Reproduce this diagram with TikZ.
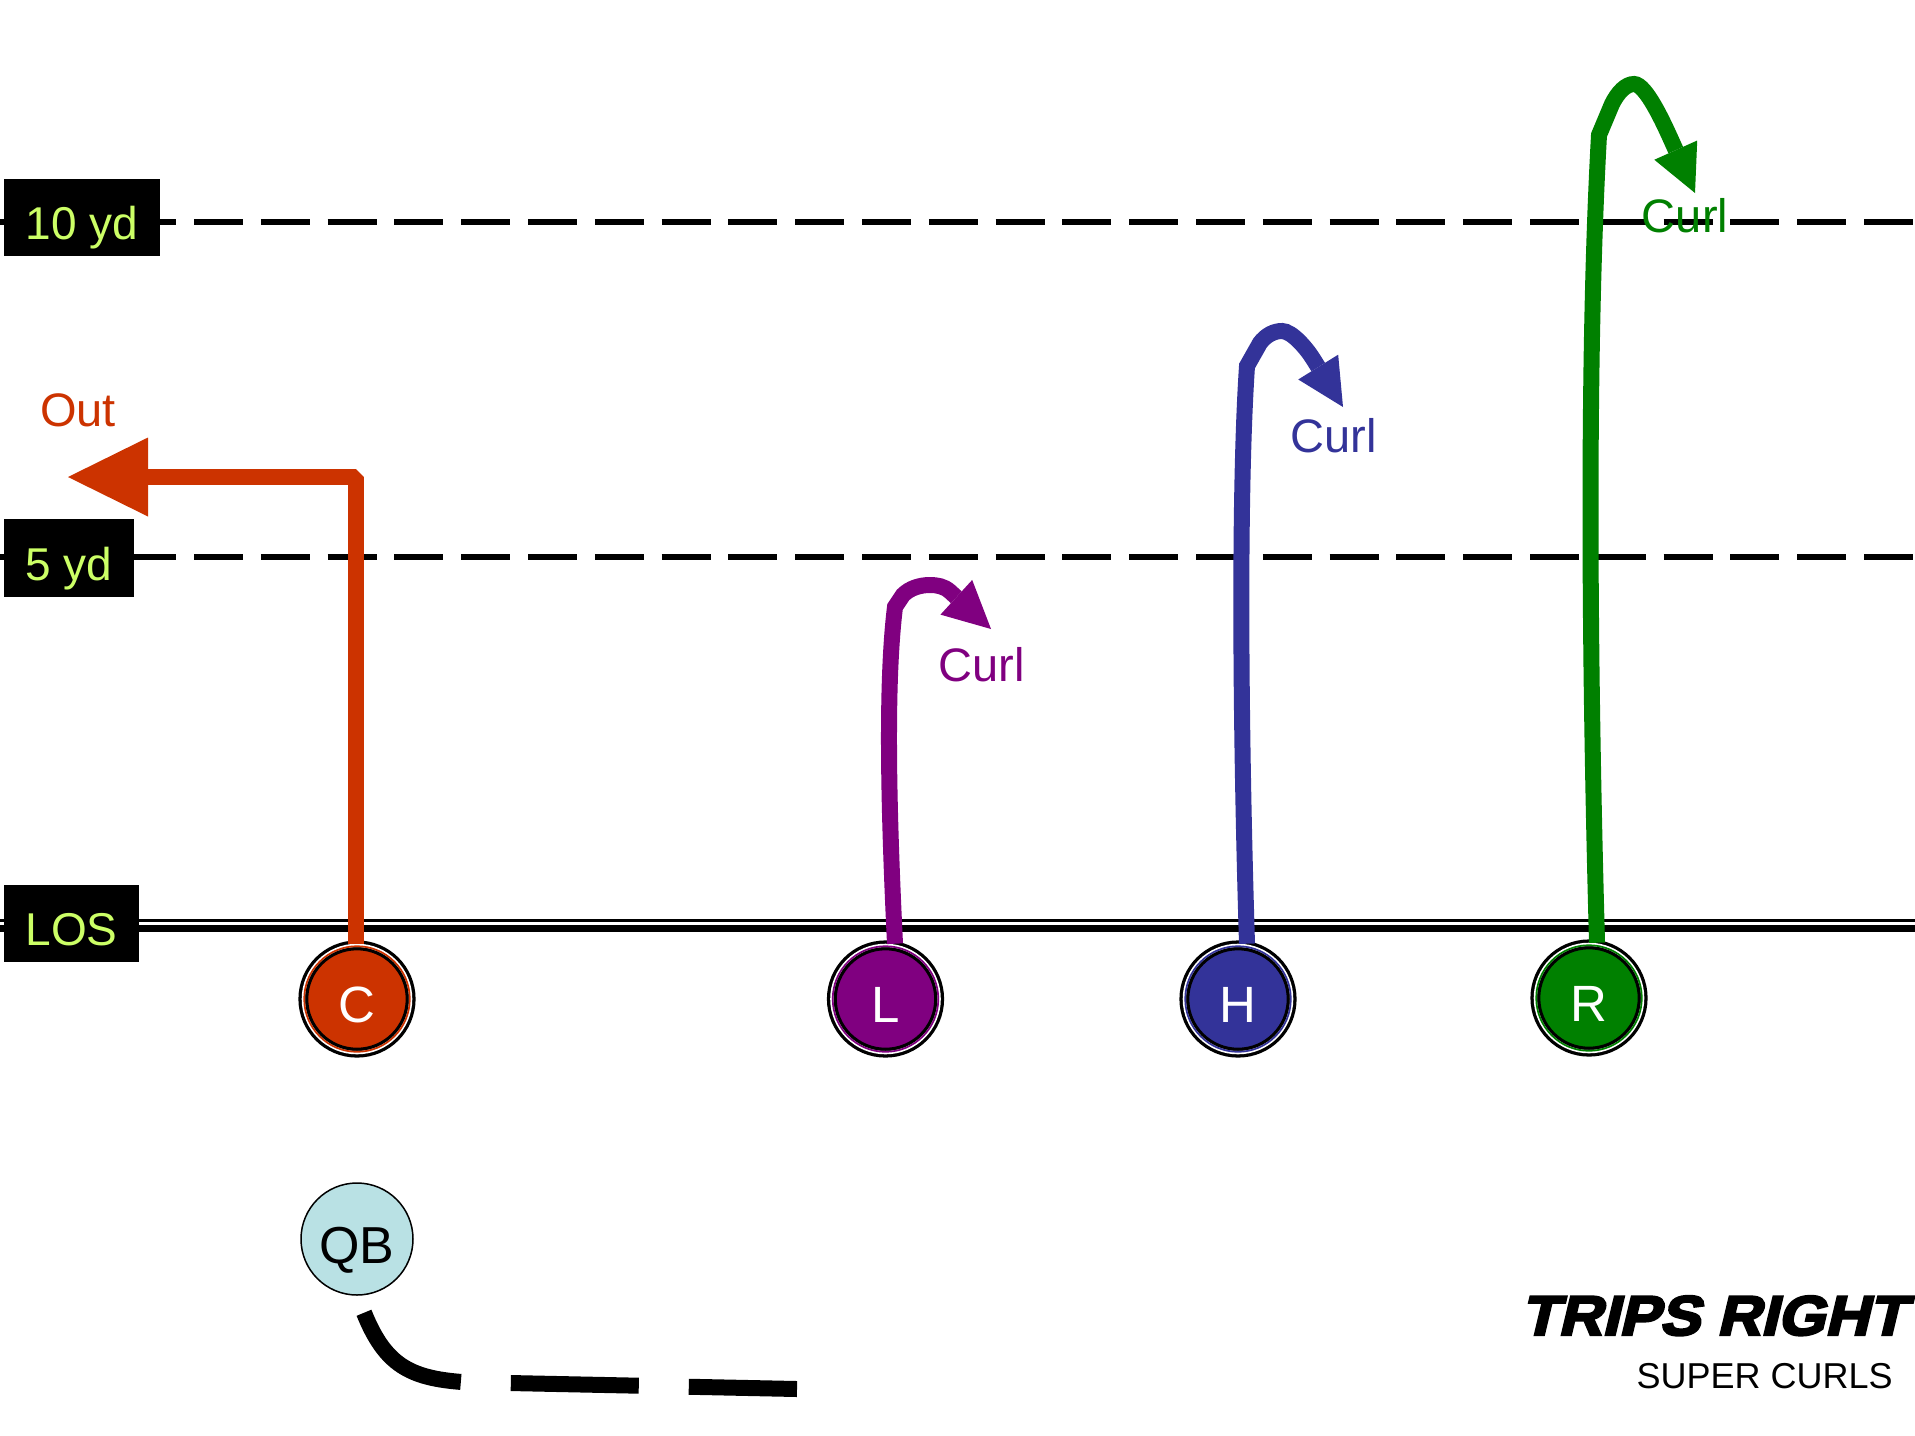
\documentclass[tikz,border=0pt]{standalone}
\usepackage{fontspec}
\usepackage{graphicx}
\setmainfont{Liberation Sans}
\newfontfamily\heavyfont[FakeSlant=0.22,FakeBold=4]{Liberation Sans}
\usetikzlibrary{arrows.meta,calc}
\definecolor{outc}{HTML}{CC3300}
\definecolor{curlL}{HTML}{800080}
\definecolor{curlH}{HTML}{333399}
\definecolor{curlR}{HTML}{008000}
\definecolor{qbfill}{HTML}{B9E1E4}
\definecolor{ydtext}{HTML}{CCFF66}
\begin{document}
\begin{tikzpicture}[x=0.5pt,y=-0.5pt,
  ydbox/.style={fill=black, text=ydtext, inner sep=0pt, text height=30.25pt, text depth=8.25pt,
    minimum height=38.5pt, font=\fontsize{23pt}{23pt}\selectfont},
  ydline/.style={line width=3pt, dash pattern=on 24.5pt off 8.9pt},
  player/.style={circle, inner sep=0pt, minimum size=53.65pt, fill=#1, draw=black,
    line width=1.65pt, double=white, double distance=1.65pt, text=white,
    text height=23pt, text depth=0pt, font=\fontsize{25.5pt}{25.5pt}\selectfont},
  ring/.style={draw=#1, line width=0.85pt},
  route/.style={line width=8pt, draw=#1, line join=miter},
  curltip/.style={-{Triangle[length=23.5pt,width=23.5pt,line width=0pt]}},
  routelabel/.style={text=#1, inner sep=0pt, font=\fontsize{23.5pt}{23.5pt}\selectfont},
]
\fill[white] (0,0) rectangle (1915,1435);
\useasboundingbox (0,0) rectangle (1915,1435);

% yard lines
\draw[ydline] (-6.4,221.5) -- (1940,221.5);
\draw[ydline] (-6.4,557.3) -- (1940,557.3);
% line of scrimmage
\draw[line width=1.3pt] (0,920.3) -- (1915,920.3);
\draw[line width=3.7pt] (0,928.5) -- (1915,928.5);

% labels
\node[ydbox, minimum width=78pt] (ten) at (82,217.5) {10 yd};
\node[ydbox, minimum width=65pt, minimum height=39pt] (five) at (69,558) {5 yd};
\node[ydbox, minimum width=67.5pt] (los) at (71.5,923.5) {LOS};

% players
\node[player=outc] (C) at (357,999) {C};
\node[player=curlL] (L) at (885.5,999) {L};
\node[player=curlH] (H) at (1238,999) {H};
\node[player=curlR] (R) at (1589,998) {R};
\draw[ring=outc] (C.center) circle[radius=26.4pt];
\draw[ring=curlL] (L.center) circle[radius=26.4pt];
\draw[ring=curlH] (H.center) circle[radius=26.4pt];
\draw[ring=curlR] (R.center) circle[radius=26.4pt];

% route end points
\coordinate (outTip) at (68,477);
\coordinate (tipL) at (991,629);
\coordinate (tipH) at (1343,407);
\coordinate (tipR) at (1695,193);

% routes
\draw[route=outc, line join=bevel, -{Triangle[length=40pt,width=39.5pt,line width=0pt]}]
  ([xshift=-0.5pt]C.north) |- (outTip);
\draw[route=curlL, curltip] ([xshift=4.75pt]L.north)
  .. controls (888,800) and (886,680) .. (895,607) -- (903,595)
  .. controls (910,588) and (920,585) .. (930,585)
  .. controls (937,585) and (944.2,586.2) .. (950.1,591.6) -- (tipL);
\draw[route=curlH, curltip] ([xshift=4.5pt]H.north)
  .. controls (1241,750) and (1238,500) .. (1247,366) -- (1260,343)
  .. controls (1266,335) and (1274,331) .. (1282,331)
  .. controls (1292,331) and (1307,349) .. (1313.3,359.2) -- (tipH);
\draw[route=curlR, curltip] ([xshift=4pt]R.north)
  .. controls (1589,650) and (1587,350) .. (1599,135) -- (1612,104)
  .. controls (1618,92) and (1626,84) .. (1634,84)
  .. controls (1646,84) and (1664,124) .. (1672.2,142.2) -- (tipR);

% route labels
\node[routelabel=outc] (outlbl) at (78,410) {Out};
\node[routelabel=curlL] (curlLlbl) at (982,665) {Curl};
\node[routelabel=curlH] (curlHlbl) at (1334,436) {Curl};
\node[routelabel=curlR] (curlRlbl) at (1685,216) {Curl};

% quarterback
\node[circle, fill=qbfill, draw=black, line width=0.75pt, minimum size=56pt, inner sep=0pt,
  text height=24pt, text depth=0pt, font=\fontsize{26pt}{26pt}\selectfont] (QB) at (357,1239) {QB};
\coordinate (qbEnd) at (797,1389);
\draw[line width=8pt, dash pattern=on 64pt off 25pt]
  ($(QB.south)+(7,17)$) .. controls (385,1365) and (410,1378) .. (462,1382) -- (qbEnd);

% title
\node[anchor=base east, inner sep=0pt, font=\heavyfont\bfseries\fontsize{28pt}{28pt}\selectfont]
  (title) at (1906,1335) {\scalebox{1.085}[1]{TRIPS RIGHT}};
\node[anchor=base east, inner sep=0pt, font=\fontsize{18pt}{18pt}\selectfont]
  (subtitle) at (1893,1388) {SUPER CURLS};
\end{tikzpicture}
\end{document}
